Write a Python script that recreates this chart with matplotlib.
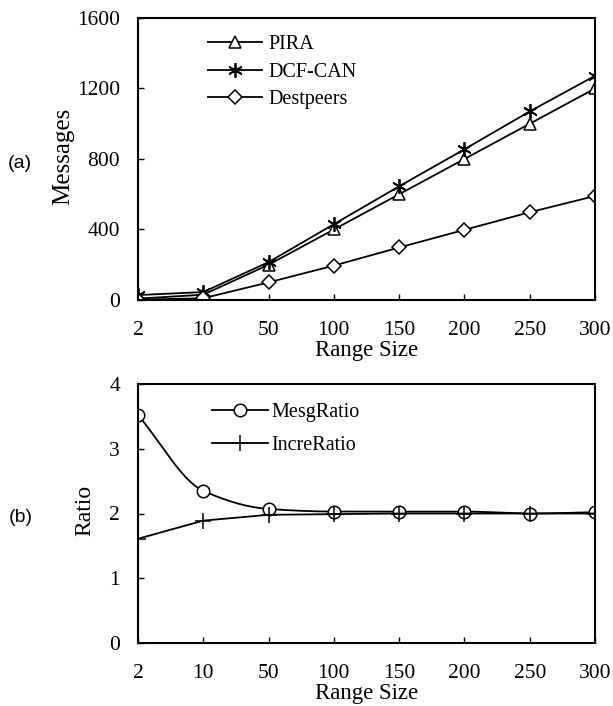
import numpy as np
import matplotlib
matplotlib.use("Agg")
import matplotlib.pyplot as plt

range_labels = ["2", "10", "50", "100", "150", "200", "250", "300"]
pira = [8, 30, 200, 400, 600, 800, 1000, 1200]
dcf_can = [28, 45, 215, 430, 645, 855, 1070, 1272]
destpeers = [2, 10, 100, 195, 298, 398, 498, 590]
mesg_ratio = [3.52, 2.35, 2.07, 2.03, 2.03, 2.03, 2.00, 2.02]
incre_ratio = [1.61, 1.89, 1.98, 1.99, 2.00, 2.00, 2.00, 2.00]

plt.rcParams['font.family'] = ['Liberation Serif', 'DejaVu Serif']
plt.rcParams['mathtext.fontset'] = 'stix'


def pchip(x, y, xs):
    x = np.asarray(x, float); y = np.asarray(y, float)
    h = np.diff(x); d = np.diff(y) / h
    m = np.zeros_like(y)
    for k in range(1, len(y) - 1):
        if d[k - 1] * d[k] > 0:
            w1 = 2 * h[k] + h[k - 1]; w2 = h[k] + 2 * h[k - 1]
            m[k] = (w1 + w2) / (w1 / d[k - 1] + w2 / d[k])
    m[0] = d[0]; m[-1] = d[-1]
    idx = np.clip(np.searchsorted(x, xs) - 1, 0, len(h) - 1)
    t = (xs - x[idx]) / h[idx]
    h00 = 2 * t**3 - 3 * t**2 + 1; h10 = t**3 - 2 * t**2 + t
    h01 = -2 * t**3 + 3 * t**2; h11 = t**3 - t**2
    return h00 * y[idx] + h10 * h[idx] * m[idx] + h01 * y[idx + 1] + h11 * h[idx] * m[idx + 1]


W, H = 613, 706
L, R = 138, 595
fig = plt.figure(figsize=(W / 100, H / 100), dpi=100)
ax1 = fig.add_axes([L / W, 1 - 300 / H, (R - L) / W, 282 / H])
ax2 = fig.add_axes([L / W, 1 - 643 / H, (R - L) / W, 259 / H])

x = np.arange(len(range_labels))
lw = 1.3
ax1.plot(x, pira, color='black', lw=lw, marker='^', ms=9, mfc='white', mec='black', mew=1.1, label='PIRA')
ax1.plot(x, dcf_can, color='black', lw=lw, marker=(6, 2, 0), ms=10.5, mec='black', mew=1.3, label='DCF-CAN')
ax1.plot(x, destpeers, color='black', lw=lw, marker='D', ms=7.5, mfc='white', mec='black', mew=1.1, label='Destpeers')
ax1.set_ylim(0, 1600)
ax1.set_yticks([0, 400, 800, 1200, 1600])
ax1.set_ylabel('Messages', fontsize=18)
ax1.yaxis.set_label_coords((74 - L) / (R - L), 0.51)

xs = np.linspace(0, len(x) - 1, 300)
ax2.plot(xs, pchip(x, mesg_ratio, xs), color='black', lw=lw)
ax2.plot(x, mesg_ratio, ls='none', marker='o', ms=9, mfc='white', mec='black', mew=1.1)
ax2.plot([], [], color='black', lw=lw, marker='o', ms=9, mfc='white', mec='black', mew=1.1, label='MesgRatio')
ax2.plot(x, incre_ratio, color='black', lw=lw, marker='+', ms=12, mec='black', mew=1.1, label='IncreRatio')
ax2.set_ylim(0, 4)
ax2.set_yticks([0, 1, 2, 3, 4])
ax2.set_ylabel('Ratio', fontsize=17)
ax2.yaxis.set_label_coords((95 - L) / (R - L), 0.51)

for ax in (ax1, ax2):
    ax.set_xlim(0, len(x) - 1)
    ax.set_xticks(x)
    ax.set_xticklabels(range_labels)
    ax.tick_params(direction='in', length=4, width=1, labelsize=15.5, colors='black')
    ax.tick_params(axis='x', pad=15)
    ax.tick_params(axis='y', pad=13)
    for s in ax.spines.values():
        s.set_linewidth(1.5)
        s.set_color('black')
    ax.set_xlabel('Range Size', fontsize=16.5, labelpad=0)
    for lab in ax.get_xticklabels() + ax.get_yticklabels():
        lab.set_clip_on(False)

leg1 = ax1.legend(loc='upper left', bbox_to_anchor=((208 - L) / (R - L), (300 - 35) / 282),
                  frameon=False, fontsize=14.5, handlelength=2.7, handletextpad=0.3,
                  labelspacing=0.42, borderaxespad=0, borderpad=0)
leg2 = ax2.legend(loc='upper left', bbox_to_anchor=((212 - L) / (R - L), (643 - 403) / 259),
                  frameon=False, fontsize=14.5, handlelength=2.8, handletextpad=0.15,
                  labelspacing=0.70, borderaxespad=0, borderpad=0)

fig.text(20 / W, 1 - 164 / H, '(a)', fontsize=14, family=['Liberation Sans', 'DejaVu Sans'],
         ha='center', va='center')
fig.text(21 / W, 1 - 518 / H, '(b)', fontsize=14, family=['Liberation Sans', 'DejaVu Sans'],
         ha='center', va='center')

fig.savefig('out.png', dpi=100, facecolor='white')
